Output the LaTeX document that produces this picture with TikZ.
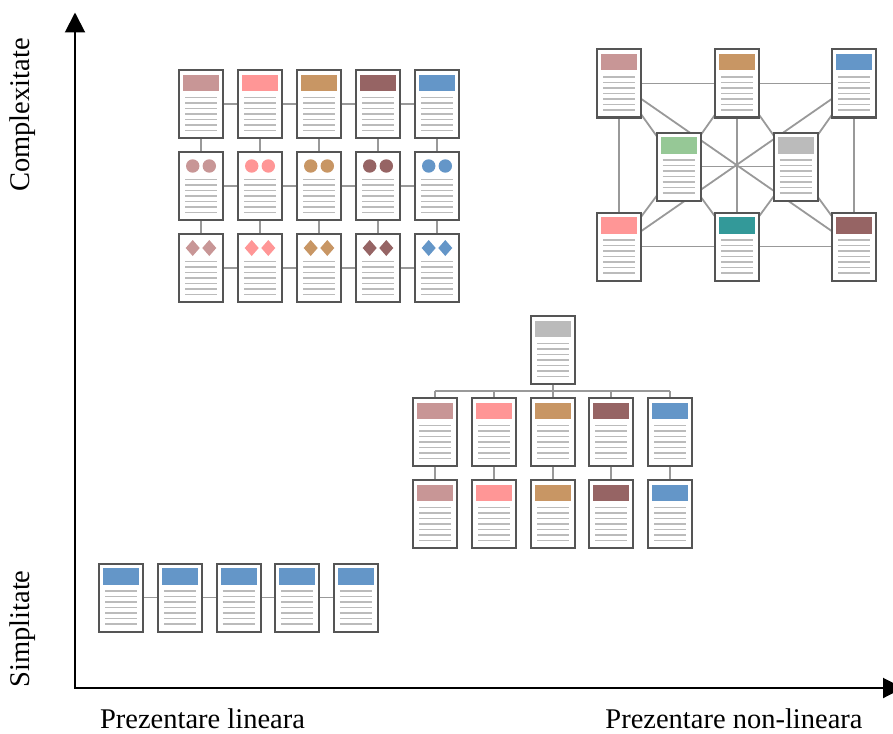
\documentclass[tikz,border=0pt]{standalone}
\usepackage{fontspec}
\setmainfont{Liberation Serif}
\usetikzlibrary{arrows.meta}
\pgfdeclarelayer{background}
\pgfsetlayers{background,main}

\definecolor{cRose}{HTML}{C89696}
\definecolor{cPink}{HTML}{FF9696}
\definecolor{cTan}{HTML}{C89664}
\definecolor{cMaroon}{HTML}{966464}
\definecolor{cBlue}{HTML}{6496C8}
\definecolor{cGreen}{HTML}{96C896}
\definecolor{cSilver}{HTML}{BBBBBB}
\definecolor{cTeal}{HTML}{339999}
\definecolor{pageBorder}{HTML}{555555}
\definecolor{textGray}{HTML}{BBBBBB}
\definecolor{linkGray}{HTML}{999999}

\tikzset{
  page/.style={draw=pageBorder, line width=2pt, fill=white,
    minimum width=44pt, minimum height=68pt, inner sep=0pt, outer sep=0pt},
  textline/.style={draw=textGray, line width=1.5pt},
  link/.style={draw=linkGray, line width=1.8pt},
  axis/.style={draw=black, line width=2pt},
  lbl/.style={font=\fontsize{28.5}{32}\selectfont, inner sep=0pt, anchor=base},
}

% a document page: name, left, top
\newcommand\docpage[3]{%
  \node[page] (#1) at ({#2+22},{#3+34}) {};
  \foreach \k in {0,...,6}
    {\draw[textline] ({#2+6},{#3+27.3+5.57*\k}) -- ({#2+38},{#3+27.3+5.57*\k});}
}
% page with a coloured title bar
\newcommand\hdrpage[4]{%
  \docpage{#1}{#2}{#3}%
  \fill[#4] ({#2+4},{#3+4.7}) rectangle ({#2+40},{#3+21});
}
% page with two coloured dots
\newcommand\dotpage[4]{%
  \docpage{#1}{#2}{#3}%
  \fill[#4] ({#2+13.7},{#3+14}) circle[radius=6.7pt]
            ({#2+30.3},{#3+14}) circle[radius=6.7pt];
}
% page with two coloured diamonds
\newcommand\gempage[4]{%
  \docpage{#1}{#2}{#3}%
  \fill[#4] ({#2+13.7},{#3+6}) -- ++(7,8) -- ++(-7,8) -- ++(-7,-8) -- cycle
            ({#2+30.3},{#3+6}) -- ++(7,8) -- ++(-7,8) -- ++(-7,-8) -- cycle;
}

\begin{document}
\begin{tikzpicture}[x=1pt, y=-1pt]
  \clip (0,0) rectangle (893,733);

  % ---- axes ----
  \coordinate (yTop) at (75,12.5);
  \coordinate (origin) at (75,688);
  \coordinate (xEnd) at (903,688);
  \draw[axis, {Triangle[length=20pt,width=20pt]}-{Triangle[length=20pt,width=20pt]}]
    (yTop) -- (origin) -- (xEnd);

  \node[lbl] (xLin) at (202.5,728) {Prezentare lineara};
  \node[lbl] (xNon) at (734,728) {Prezentare non-lineara};
  \node[lbl, rotate=90] (yCx) at (29,115) {Complexitate};
  \node[lbl, rotate=90] (ySi) at (29,629) {Simplitate};

  % ---- grid of pages ----
  \foreach \c/\col [count=\i] in {179/cRose,238/cPink,297/cTan,356/cMaroon,415/cBlue} {
    \hdrpage{g1-\i}{\c}{70}{\col}
    \dotpage{g2-\i}{\c}{152}{\col}
    \gempage{g3-\i}{\c}{234}{\col}
  }
  \begin{pgfonlayer}{background}
    \foreach \r in {1,2,3} {
      \foreach \i/\j in {1/2,2/3,3/4,4/5} {
        \draw[link] (g\r-\i) -- (g\r-\j);
      }
    }
    \foreach \i in {1,...,5} {
      \draw[link] (g1-\i) -- (g2-\i) (g2-\i) -- (g3-\i);
    }
  \end{pgfonlayer}

  % ---- network of pages ----
  \hdrpage{nTL}{597}{49.5}{cRose}
  \hdrpage{nTM}{715}{49.5}{cTan}
  \hdrpage{nTR}{832}{49.5}{cBlue}
  \hdrpage{nML}{656.5}{132.5}{cGreen}
  \hdrpage{nMR}{773.5}{132.5}{cSilver}
  \hdrpage{nBL}{597}{212.5}{cPink}
  \hdrpage{nBM}{715}{212.5}{cTeal}
  \hdrpage{nBR}{832}{212.5}{cMaroon}
  \begin{pgfonlayer}{background}
    \foreach \a/\b in {nTL/nTM, nTM/nTR, nBL/nBM, nBM/nBR, nTL/nBL, nTR/nBR,
                       nTM/nBM, nML/nMR, nTL/nBR, nTR/nBL,
                       nML/nTL, nML/nTM, nML/nBL, nML/nBM,
                       nMR/nTM, nMR/nTR, nMR/nBM, nMR/nBR} {
      \draw[link] (\a.center) -- (\b.center);
    }
  \end{pgfonlayer}

  % ---- tree of pages ----
  \hdrpage{tR}{531}{316}{cSilver}
  \foreach \c/\col [count=\i] in {413.3/cRose,472.3/cPink,531/cTan,589.3/cMaroon,648/cBlue} {
    \hdrpage{t1-\i}{\c}{398}{\col}
    \hdrpage{t2-\i}{\c}{480}{\col}
  }
  \begin{pgfonlayer}{background}
    \draw[link] (tR) -- (t1-3);
    \draw[link] ([yshift=7pt]t1-1.north) -- ([yshift=7pt]t1-5.north);
    \foreach \i in {1,2,4,5} {
      \draw[link] (t1-\i.north) -- ++(0,-7);
    }
    \foreach \i in {1,...,5} {
      \draw[link] (t1-\i) -- (t2-\i);
    }
  \end{pgfonlayer}

  % ---- linear row of pages ----
  \foreach \c [count=\i] in {99.3,158,216.7,275.2,333.7} {
    \hdrpage{b\i}{\c}{563.5}{cBlue}
  }
  \begin{pgfonlayer}{background}
    \foreach \i/\j in {1/2,2/3,3/4,4/5} {
      \draw[link] (b\i) -- (b\j);
    }
  \end{pgfonlayer}
\end{tikzpicture}
\end{document}
